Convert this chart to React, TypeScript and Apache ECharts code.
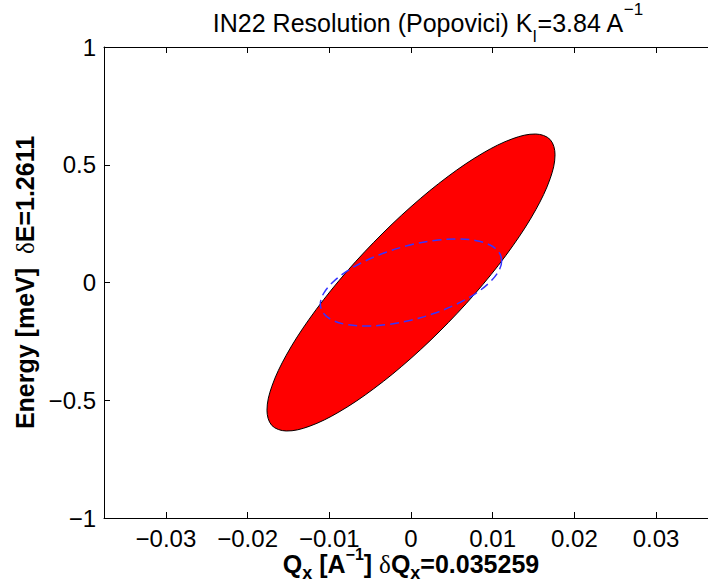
import React, { useEffect, useRef } from "react";
import * as echarts from "echarts";

// Axis ticks / limits
const X_TICKS = [-0.03, -0.02, -0.01, 0, 0.01, 0.02, 0.03];
const Y_TICKS = [-1, -0.5, 0, 0.5, 1];
const X_LIMITS = [-0.03758, 0.03758];
const Y_LIMITS = [-1, 1];

// Outer (projected) resolution ellipse outline
const OUTER_X = [
  0.01763, 0.01703, 0.01527, 0.01247, 0.00882, 0.00456, 0, -0.00456, -0.00882, -0.01247, -0.01527, -0.01703,
  -0.01763, -0.01703, -0.01527, -0.01247, -0.00882, -0.00456, 0, 0.00456, 0.00882, 0.01247, 0.01527, 0.01703,
];
const OUTER_Y = [
  0.5423, 0.6071, 0.6305, 0.611, 0.5499, 0.4511, 0.3218, 0.1705, 0.0075, -0.156, -0.3087, -0.4405,
  -0.5423, -0.6071, -0.6305, -0.611, -0.5499, -0.4511, -0.3218, -0.1705, -0.0075, 0.156, 0.3087, 0.4405,
];

// Inner (slice) ellipse outline, dashed blue
const INNER_X = [
  0.0111, 0.01072, 0.00961, 0.00785, 0.00555, 0.00287, 0, -0.00287, -0.00555, -0.00785, -0.00961, -0.01072,
  -0.0111, -0.01072, -0.00961, -0.00785, -0.00555, -0.00287, 0, 0.00287, 0.00555, 0.00785, 0.00961, 0.01072,
];
const INNER_Y = [
  0.0925, 0.1308, 0.1602, 0.1787, 0.185, 0.1786, 0.1602, 0.1308, 0.0924, 0.0479, 0, -0.0478,
  -0.0925, -0.1308, -0.1602, -0.1787, -0.185, -0.1786, -0.1602, -0.1308, -0.0924, -0.0479, 0, 0.0478,
];

const TITLE = "IN22 Resolution (Popovici) K{sub|I}=3.84 A{sup|\u22121}";
const X_NAME = "Q{sub|x} [A{sup|\u22121}] {d|\u03b4}Q{sub|x}=0.035259";
const Y_NAME = "Energy [meV]  {d|\u03b4}E=1.2611";

const FONT = "'Liberation Sans', Arial, Helvetica, sans-serif";
const SERIF = "'Liberation Serif', 'DejaVu Serif', serif";

const fmt = (v: number) => String(Number(v.toFixed(4))).replace("-", "\u2212");

export default function App() {
  const ref = useRef<HTMLDivElement>(null);
  useEffect(() => {
    if (!ref.current) return;
    const chart = echarts.init(ref.current, null, { renderer: "svg" });
    const axisLine = { show: true, onZero: false, lineStyle: { color: "#000", width: 1 } };
    const option: any = {
      animation: false,
      backgroundColor: "#fff",
      grid: { left: 104, top: 47, right: -10, bottom: 65, containLabel: false, outerBoundsMode: "none" },
      graphic: [
        {
          type: "text",
          x: 428,
          y: 0.5,
          z: 10,
          style: {
            text: TITLE,
            fontFamily: FONT,
            fontSize: 25,
            lineHeight: 44,
            fill: "#000",
            align: "center",
            verticalAlign: "top",
            rich: {
              sub: { fontFamily: FONT, fontSize: 16, lineHeight: 16, verticalAlign: "bottom", fill: "#000" },
              sup: { fontFamily: FONT, fontSize: 17, lineHeight: 16, verticalAlign: "top", fill: "#000" },
            },
          },
        },
      ],
      xAxis: [
        {
          type: "value",
          position: "bottom",
          min: X_LIMITS[0],
          max: X_LIMITS[1],
          axisLine,
          splitLine: { show: false },
          axisTick: { show: true, inside: true, length: 6, customValues: X_TICKS, lineStyle: { color: "#000" } },
          axisLabel: {
            show: true,
            customValues: X_TICKS,
            formatter: fmt,
            margin: 8,
            fontFamily: FONT,
            fontSize: 24,
            lineHeight: 24,
            color: "#000",
          },
          name: X_NAME,
          nameLocation: "middle",
          nameGap: 28.5,
          nameMoveOverlap: false,
          nameTextStyle: {
            fontFamily: FONT,
            fontSize: 25,
            fontWeight: "bold",
            lineHeight: 35,
            color: "#000",
            rich: {
              sub: { fontFamily: FONT, fontSize: 18, fontWeight: "bold", lineHeight: 16, verticalAlign: "bottom", color: "#000" },
              sup: { fontFamily: FONT, fontSize: 16, fontWeight: "bold", lineHeight: 16, verticalAlign: "top", color: "#000" },
              d: { fontFamily: SERIF, fontSize: 25, fontWeight: "normal", lineHeight: 35, color: "#000" },
            },
          },
        },
        {
          type: "value",
          position: "top",
          min: X_LIMITS[0],
          max: X_LIMITS[1],
          axisLine,
          splitLine: { show: false },
          axisTick: { show: true, inside: true, length: 6, customValues: X_TICKS, lineStyle: { color: "#000" } },
          axisLabel: { show: false },
        },
      ],
      yAxis: [
        {
          type: "value",
          position: "left",
          min: Y_LIMITS[0],
          max: Y_LIMITS[1],
          interval: 0.5,
          axisLine,
          splitLine: { show: false },
          axisTick: { show: true, inside: true, length: 6, customValues: Y_TICKS, lineStyle: { color: "#000" } },
          axisLabel: {
            show: true,
            customValues: Y_TICKS,
            formatter: fmt,
            margin: 8,
            fontFamily: FONT,
            fontSize: 24,
            lineHeight: 24,
            color: "#000",
          },
          name: Y_NAME,
          nameLocation: "middle",
          nameRotate: 90,
          nameGap: 67,
          nameMoveOverlap: false,
          nameTextStyle: {
            fontFamily: FONT,
            fontSize: 25,
            fontWeight: "bold",
            lineHeight: 24,
            color: "#000",
            rich: {
              d: { fontFamily: SERIF, fontSize: 25, fontWeight: "normal", lineHeight: 24, color: "#000" },
            },
          },
        },
      ],
      series: [
        {
          type: "custom",
          xAxisIndex: 0,
          yAxisIndex: 0,
          data: [[0, 0]],
          encode: { x: 0, y: 1 },
          clip: true,
          renderItem: (_p: any, api: any) => ({
            type: "polygon",
            shape: { points: OUTER_X.map((x, i) => api.coord([x, OUTER_Y[i]])), smooth: 0.35 },
            style: { fill: "#ff0000", stroke: "#000", lineWidth: 1 },
          }),
        },
        {
          type: "custom",
          xAxisIndex: 0,
          yAxisIndex: 0,
          data: [[0, 0]],
          encode: { x: 0, y: 1 },
          clip: true,
          renderItem: (_p: any, api: any) => ({
            type: "polygon",
            shape: { points: INNER_X.map((x, i) => api.coord([x, INNER_Y[i]])), smooth: 0.35 },
            style: { fill: "none", stroke: "#3535ff", lineWidth: 1.5, lineDash: [9, 5] },
          }),
        },
      ],
    };
    chart.setOption(option);
    return () => chart.dispose();
  }, []);
  return (
    <div
      ref={ref}
      style={{ position: "fixed", left: 0, top: 0, width: 708, height: 583, background: "#fff" }}
    />
  );
}
